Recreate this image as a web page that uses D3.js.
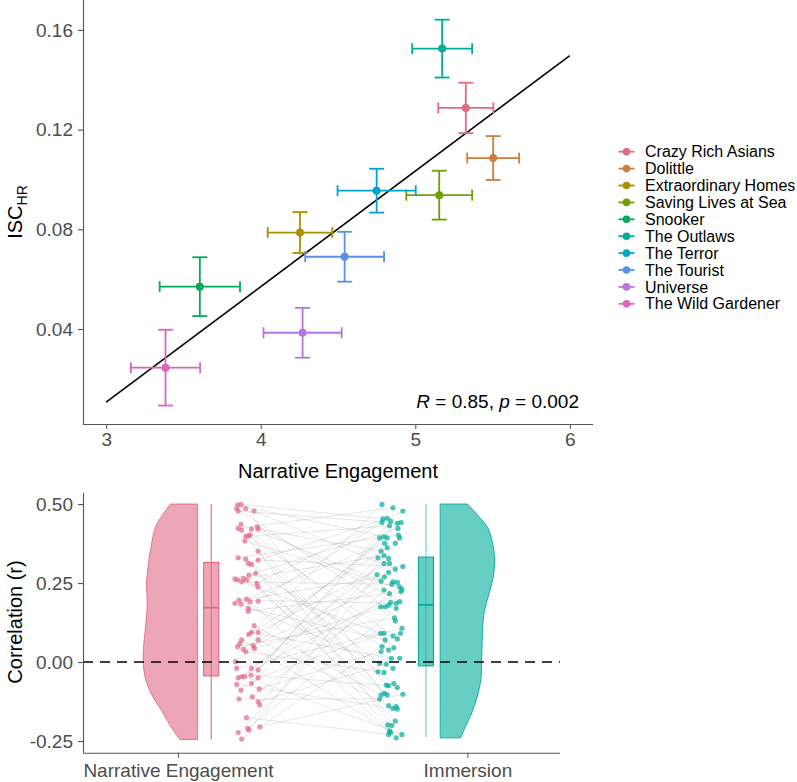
<!DOCTYPE html>
<html><head><meta charset="utf-8">
<script src="https://cdn.jsdelivr.net/npm/d3@7"></script>
<style>body{margin:0;background:#fff}svg{display:block}text{font-family:"Liberation Sans",Arial,Helvetica,sans-serif}</style>
</head><body><svg id="c" width="797" height="782"></svg>
<script>
// ---------- Top panel data ----------
const films = ["Crazy Rich Asians","Dolittle","Extraordinary Homes","Saving Lives at Sea","Snooker","The Outlaws","The Terror","The Tourist","Universe","The Wild Gardener"];
const engagement = [5.327, 5.504, 4.254, 5.155, 3.606, 5.174, 4.750, 4.543, 4.271, 3.384];
const engagementErr = [0.178, 0.168, 0.209, 0.213, 0.260, 0.194, 0.253, 0.255, 0.253, 0.224];
const iscHR = [0.1287, 0.1086, 0.0787, 0.0937, 0.0570, 0.1525, 0.0955, 0.0690, 0.0385, 0.0245];
const iscHRErr = [0.0101, 0.0088, 0.0082, 0.0098, 0.0118, 0.0116, 0.0088, 0.0100, 0.0100, 0.0152];
const xTicksTop = [3, 4, 5, 6];
const yTicksTop = [0.04, 0.08, 0.12, 0.16];
const fitRange = [3, 6];
const statLabel = {R: "0.85", p: "0.002"};

// ---------- Bottom panel data ----------
const groups = ["Narrative Engagement", "Immersion"];
const yTicksBot = [-0.25, 0, 0.25, 0.5];
const neJitter = [0.206,0.218,0.203,0.234,0.208,0.263,0.218,0.208,0.220,0.254,0.274,0.277,0.249,0.234,0.243,0.231,0.277,0.208,0.234,0.277,0.243,0.254,0.197,0.206,0.226,0.245,0.268,0.220,0.237,0.272,0.277,0.197,0.211,0.218,0.237,0.249,0.277,0.243,0.243,0.263,0.245,0.254,0.277,0.220,0.214,0.206,0.260,0.277,0.226,0.234,0.264,0.199,0.203,0.220,0.231,0.254,0.252,0.277,0.277,0.208,0.203,0.218,0.281,0.254,0.211,0.257,0.277,0.283,0.237,0.241,0.245,0.283,0.208,0.220];
const neR = [0.497,0.499,0.486,0.486,0.478,0.478,0.436,0.423,0.418,0.421,0.428,0.421,0.402,0.397,0.400,0.383,0.351,0.330,0.326,0.323,0.312,0.309,0.263,0.260,0.265,0.275,0.281,0.254,0.260,0.249,0.238,0.186,0.196,0.183,0.199,0.191,0.193,0.170,0.161,0.115,0.088,0.094,0.094,0.070,0.059,0.049,0.052,0.070,0.041,0.033,0.043,0.001,-0.020,-0.046,-0.046,-0.020,-0.041,-0.025,-0.050,-0.050,-0.071,-0.089,-0.085,-0.068,-0.117,-0.110,-0.126,-0.136,-0.176,-0.210,-0.215,-0.205,-0.223,-0.244];
const imJitter = [-0.295,-0.257,-0.223,-0.292,-0.277,-0.265,-0.295,-0.242,-0.229,-0.269,-0.240,-0.303,-0.288,-0.277,-0.238,-0.234,-0.286,-0.249,-0.277,-0.298,-0.309,-0.288,-0.272,-0.288,-0.269,-0.249,-0.223,-0.312,-0.286,-0.272,-0.298,-0.257,-0.242,-0.261,-0.234,-0.226,-0.288,-0.269,-0.229,-0.300,-0.284,-0.272,-0.265,-0.246,-0.234,-0.246,-0.252,-0.249,-0.300,-0.288,-0.284,-0.257,-0.242,-0.231,-0.226,-0.295,-0.272,-0.298,-0.254,-0.263,-0.234,-0.303,-0.280,-0.257,-0.309,-0.288,-0.280,-0.272,-0.254,-0.242,-0.286,-0.298,-0.303,-0.277,-0.223,-0.272,-0.257,-0.246,-0.242,-0.249,-0.275,-0.261,-0.269,-0.272,-0.265,-0.246,-0.226];
const imR = [0.499,0.488,0.478,0.453,0.455,0.446,0.442,0.439,0.442,0.431,0.423,0.393,0.397,0.393,0.402,0.393,0.376,0.376,0.362,0.351,0.330,0.337,0.328,0.312,0.312,0.294,0.302,0.277,0.270,0.284,0.256,0.254,0.252,0.246,0.238,0.231,0.228,0.217,0.223,0.175,0.175,0.180,0.189,0.186,0.191,0.170,0.140,0.130,0.091,0.091,0.070,0.083,0.073,0.091,0.107,0.049,0.038,0.033,0.045,0.012,0.012,-0.004,-0.007,-0.020,-0.031,-0.033,-0.073,-0.075,-0.068,-0.081,-0.099,-0.104,-0.117,-0.104,-0.102,-0.138,-0.147,-0.141,-0.149,-0.187,-0.199,-0.201,-0.218,-0.229,-0.223,-0.240,-0.229];
const pairIndex = [12,3,40,66,7,25,58,1,81,30,44,19,70,9,52,35,77,14,61,26,4,85,48,21,73,10,56,33,68,2,79,16,43,63,28,84,6,50,37,71,18,59,24,82,0,46,31,75,13,64,41,8,54,22,86,29,67,11,49,38,78,5,57,20,72,34,62,15,83,45,27,74,36,53];
const violinR_NE = [0.5,0.465,0.423,0.37,0.317,0.244,0.212,0.159,0.107,0.054,0.001,-0.052,-0.104,-0.157,-0.21,-0.245];
const violinD_NE = [0.50,0.65,0.78,0.85,0.90,0.94,0.93,0.93,0.96,0.99,1.0,0.96,0.84,0.65,0.47,0.33];
const violinR_IM = [0.5,0.465,0.423,0.37,0.317,0.265,0.212,0.159,0.107,0.054,0.001,-0.052,-0.104,-0.157,-0.21,-0.24];
const violinD_IM = [0.50,0.69,0.88,0.97,1.0,0.97,0.89,0.81,0.78,0.77,0.76,0.75,0.69,0.59,0.45,0.38];
const boxNE = [-0.245, -0.044, 0.172, 0.315, 0.5];
const boxIM = [-0.238, -0.012, 0.181, 0.332, 0.5];

// ---------- colours (HCL qualitative, polarLUV) ----------
function polarLuv(h, c, l) {
  const Xn = 95.047, Yn = 100, Zn = 108.883;
  const hr = h * Math.PI / 180, u = c * Math.cos(hr), v = c * Math.sin(hr);
  const Y = l > 8 ? Yn * Math.pow((l + 16) / 116, 3) : Yn * l / 903.3;
  const t = Xn + 15 * Yn + 3 * Zn, un = 4 * Xn / t, vn = 9 * Yn / t;
  const up = u / (13 * l) + un, vp = v / (13 * l) + vn;
  const X = 9 * Y * up / (4 * vp), Z = -X / 3 - 5 * Y + 3 * Y / vp;
  const x = X / 100, y = Y / 100, z = Z / 100;
  const lin = [3.240479*x - 1.537150*y - 0.498535*z, -0.969256*x + 1.875992*y + 0.041556*z, 0.055648*x - 0.204043*y + 1.057311*z];
  const g = lin.map(q => { q = q <= 0.0031308 ? 12.92 * q : 1.055 * Math.pow(q, 1/2.4) - 0.055; return Math.round(Math.max(0, Math.min(1, q)) * 255); });
  return d3.rgb(g[0], g[1], g[2]).formatHex();
}
const filmColors = films.map((f, i) => polarLuv(i * 36, 80, 60));
const neColor = polarLuv(0, 80, 60), imColor = polarLuv(180, 80, 60);

const svg = d3.select("#c");
const FONT = '"Liberation Sans",Arial,Helvetica,sans-serif';
const axisCol = "#555", tickTxt = "#4d4d4d";

// ================= TOP PANEL =================
const xT = d3.scaleLinear().domain([2.85, 6.15]).range([83, 593]);
const yT = d3.scaleLinear().domain([0.0019, 0.172]).range([424, 0]);
const topG = svg.append("g");

const mx = d3.mean(engagement), my = d3.mean(iscHR);
const slope = d3.sum(engagement, (v, i) => (v - mx) * (iscHR[i] - my)) / d3.sum(engagement, v => (v - mx) ** 2);
const icpt = my - slope * mx;
topG.append("path").datum(fitRange).attr("fill", "none").attr("stroke", "#000").attr("stroke-width", 1.6)
  .attr("d", d3.line().x(d => xT(d)).y(d => yT(icpt + slope * d)));

films.forEach((f, i) => {
  const g = topG.append("g").attr("stroke", filmColors[i]).attr("stroke-width", 1.8).attr("fill", "none");
  const cx = xT(engagement[i]), cy = yT(iscHR[i]);
  const x0 = xT(engagement[i] - engagementErr[i]), x1 = xT(engagement[i] + engagementErr[i]);
  const y0 = yT(iscHR[i] - iscHRErr[i]), y1 = yT(iscHR[i] + iscHRErr[i]);
  g.append("line").attr("x1", x0).attr("x2", x1).attr("y1", cy).attr("y2", cy);
  g.append("line").attr("x1", x0).attr("x2", x0).attr("y1", cy - 5.5).attr("y2", cy + 5.5);
  g.append("line").attr("x1", x1).attr("x2", x1).attr("y1", cy - 5.5).attr("y2", cy + 5.5);
  g.append("line").attr("x1", cx).attr("x2", cx).attr("y1", y0).attr("y2", y1);
  g.append("line").attr("x1", cx - 7.5).attr("x2", cx + 7.5).attr("y1", y0).attr("y2", y0);
  g.append("line").attr("x1", cx - 7.5).attr("x2", cx + 7.5).attr("y1", y1).attr("y2", y1);
  topG.append("circle").attr("cx", cx).attr("cy", cy).attr("r", 4).attr("fill", filmColors[i]);
});

const xAxT = topG.append("g").attr("transform", "translate(0,424)")
  .call(d3.axisBottom(xT).tickValues(xTicksTop).tickSize(5).tickPadding(4).tickFormat(d3.format("d")));
const yAxT = topG.append("g").attr("transform", "translate(83,0)")
  .call(d3.axisLeft(yT).tickValues(yTicksTop).tickSize(5).tickPadding(5).tickFormat(d3.format(".2f")));
[xAxT, yAxT].forEach(a => {
  a.select(".domain").attr("stroke", axisCol).attr("stroke-width", 1.1);
  a.selectAll(".tick line").attr("stroke", axisCol).attr("stroke-width", 1.1);
  a.selectAll("text").attr("fill", tickTxt).style("font-size", "19px").style("font-family", FONT);
});
xAxT.select(".domain").attr("d", "M83,0.5H593");
yAxT.select(".domain").attr("d", "M0.5,0V424");

topG.append("text").attr("x", 338).attr("y", 478).attr("text-anchor", "middle")
  .style("font-size", "20px").attr("fill", "#000").text("Narrative Engagement");
const yl = topG.append("text").attr("transform", "translate(22,212) rotate(-90)").attr("text-anchor", "middle")
  .style("font-size", "20px").attr("fill", "#000");
yl.append("tspan").text("ISC");
yl.append("tspan").attr("dy", 5).style("font-size", "14px").text("HR");

const st = topG.append("text").attr("x", 579).attr("y", 408).attr("text-anchor", "end").style("font-size", "19px").attr("fill", "#000");
st.append("tspan").style("font-style", "italic").text("R");
st.append("tspan").text(" = " + statLabel.R + ", ");
st.append("tspan").style("font-style", "italic").text("p");
st.append("tspan").text(" = " + statLabel.p);

const lg = svg.append("g");
films.forEach((f, i) => {
  const y = 151.7 + i * 16.9;
  lg.append("line").attr("x1", 618.5).attr("x2", 634.5).attr("y1", y).attr("y2", y).attr("stroke", filmColors[i]).attr("stroke-width", 1.8);
  lg.append("circle").attr("cx", 626.5).attr("cy", y).attr("r", 3.8).attr("fill", filmColors[i]);
  lg.append("text").attr("x", 645).attr("y", y + 5.6).style("font-size", "16px").attr("fill", "#000").text(f);
});

// ================= BOTTOM PANEL =================
const xB = d3.scaleLinear().domain([0.672, 2.32]).range([83, 560]);
const yB = d3.scaleLinear().domain([-0.287, 0.536]).range([752.7, 492.7]);
const botG = svg.append("g");

const nePts = neR.map((r, i) => ({x: 1 + neJitter[i], r}));
const imPts = imR.map((r, i) => ({x: 2 + imJitter[i], r}));

botG.append("g").selectAll("line").data(pairIndex).join("line")
  .attr("x1", (d, i) => xB(nePts[i].x)).attr("y1", (d, i) => yB(nePts[i].r))
  .attr("x2", d => xB(imPts[d].x)).attr("y2", d => yB(imPts[d].r))
  .attr("stroke", "#9a9a9a").attr("stroke-opacity", 0.35).attr("stroke-width", 0.7);

botG.append("g").selectAll("circle").data(nePts).join("circle")
  .attr("cx", d => xB(d.x)).attr("cy", d => yB(d.r)).attr("r", 2.6).attr("fill", neColor).attr("fill-opacity", 0.7);
botG.append("g").selectAll("circle").data(imPts).join("circle")
  .attr("cx", d => xB(d.x)).attr("cy", d => yB(d.r)).attr("r", 2.6).attr("fill", imColor).attr("fill-opacity", 0.7);

const vMax = 0.188;
function halfViolin(rs, ds, base, dir, col) {
  const pts = rs.map((r, i) => ({r, d: ds[i]}));
  const area = d3.area().y(d => yB(d.r)).x0(xB(base)).x1(d => xB(base + dir * d.d * vMax)).curve(d3.curveCatmullRom);
  botG.append("path").datum(pts).attr("d", area).attr("fill", col).attr("fill-opacity", 0.6)
    .attr("stroke", col).attr("stroke-width", 0.9);
}
halfViolin(violinR_NE, violinD_NE, 1.068, -1, neColor);
halfViolin(violinR_IM, violinD_IM, 1.906, 1, imColor);

function box(stats, center, col, whiskOpacity) {
  const hw = 0.026;
  botG.append("line").attr("x1", xB(center)).attr("x2", xB(center)).attr("y1", yB(stats[0])).attr("y2", yB(stats[4]))
    .attr("stroke", col).attr("stroke-opacity", whiskOpacity).attr("stroke-width", 1.1);
  botG.append("rect").attr("x", xB(center - hw)).attr("width", xB(center + hw) - xB(center - hw))
    .attr("y", yB(stats[3])).attr("height", yB(stats[1]) - yB(stats[3]))
    .attr("fill", col).attr("fill-opacity", 0.6).attr("stroke", col).attr("stroke-width", 1.1);
  botG.append("line").attr("x1", xB(center - hw)).attr("x2", xB(center + hw)).attr("y1", yB(stats[2])).attr("y2", yB(stats[2]))
    .attr("stroke", col).attr("stroke-width", 1.8);
}
box(boxNE, 1.115, neColor, 1);
box(boxIM, 1.857, imColor, 0.6);

botG.append("line").attr("x1", 83).attr("x2", 560).attr("y1", yB(0)).attr("y2", yB(0))
  .attr("stroke", "#000").attr("stroke-width", 1.6).attr("stroke-dasharray", "10,7");

const xAxB = botG.append("g").attr("transform", "translate(0,752.7)")
  .call(d3.axisBottom(xB).tickValues([1, 2]).tickSize(5).tickPadding(6).tickFormat((d, i) => groups[i]));
const yAxB = botG.append("g").attr("transform", "translate(83,0)")
  .call(d3.axisLeft(yB).tickValues(yTicksBot).tickSize(5).tickPadding(5).tickFormat(d => d3.format(".2f")(d).replace("−", "-")));
[xAxB, yAxB].forEach(a => {
  a.select(".domain").attr("stroke", axisCol).attr("stroke-width", 1.1);
  a.selectAll(".tick line").attr("stroke", axisCol).attr("stroke-width", 1.1);
  a.selectAll("text").attr("fill", tickTxt).style("font-size", "19px").style("font-family", FONT);
});
xAxB.select(".domain").attr("d", "M83,0.5H560");
yAxB.select(".domain").attr("d", "M0.5,492.7V752.7");

botG.append("text").attr("transform", "translate(22,622) rotate(-90)").attr("text-anchor", "middle")
  .style("font-size", "20px").attr("fill", "#000").text("Correlation (r)");
</script></body></html>
